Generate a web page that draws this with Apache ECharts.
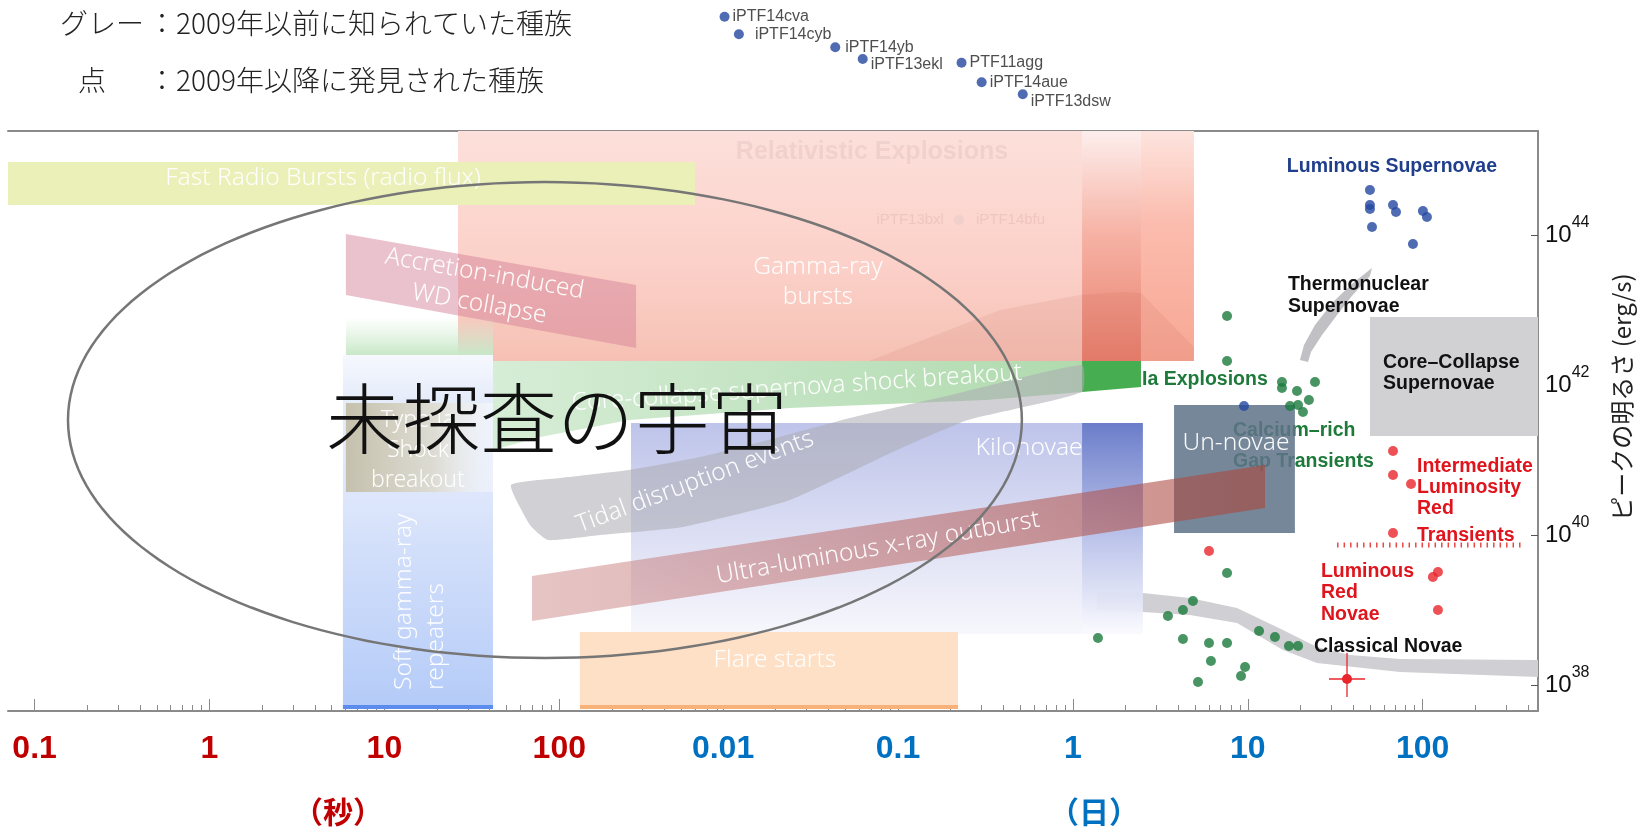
<!DOCTYPE html>
<html><head><meta charset="utf-8">
<script src="https://cdn.jsdelivr.net/npm/echarts@6/dist/echarts.min.js"></script>
<style>html,body{margin:0;padding:0;background:#fff}#c{width:1643px;height:835px}</style>
</head><body><div id="c"></div>
<script>
// ---------- axes (x = log10 seconds, y = log10 erg/s) ----------
const xRange = [-1.152, 7.596];
const yRange = [37.653, 45.387];
const LOG_DAY = Math.log10(86400);
const secTickLabels = ['0.1', '1', '10', '100'];
const secTickValues = [-1, 0, 1, 2];          // log10 seconds
const dayTickLabels = ['0.01', '0.1', '1', '10', '100'];
const dayTickValues = [-2, -1, 0, 1, 2];      // log10 days
const yTickValues = [38, 40, 42, 44];

// ---------- regions (data coords) ----------
function rect(x0, x1, yT, yB) { return [[x0, yT], [x1, yT], [x1, yB], [x0, yB]]; }
const grbMain = rect(1.421, 4.989, 45.387, 42.32);
const grbMid = rect(4.989, 5.326, 45.387, 42.32);
const grbRight = rect(5.326, 5.629, 45.387, 42.32);
const grbShade = [[3.771, 42.32], [4.520, 43.0], [4.977, 43.2], [5.223, 43.24], [5.326, 43.227], [5.629, 42.507], [5.629, 42.32]];
const frbBand = rect(-1.152, 2.776, 44.973, 44.40);
const wdCollapse = [[0.780, 44.013], [2.439, 43.333], [2.439, 42.493], [0.780, 43.2]];
const greenFade = rect(0.780, 1.621, 42.907, 42.4);
const sgrBox = rect(0.763, 1.621, 42.4, 37.693);
const sgrEdge = rect(0.763, 1.621, 37.733, 37.68);
const tanBox = rect(0.780, 1.621, 41.76, 40.573);
const ccsbBand = [[1.621, 42.32], [4.989, 42.32], [4.989, 41.907], [4.440, 41.8], [3.319, 41.693], [2.399, 41.533], [1.890, 41.307], [1.621, 41.133]];
const ccsbStrong = [[4.989, 42.32], [5.326, 42.32], [5.326, 41.973], [4.989, 41.907]];
const kiloMain = rect(2.410, 4.989, 41.493, 38.68);
const kiloStrong = rect(4.989, 5.337, 41.493, 38.68);
const tdeBand = [[1.724, 40.667], [2.004, 40.76], [2.399, 40.867], [2.804, 41.04], [3.153, 41.24], [3.662, 41.56], [4.240, 41.867], [4.989, 42.267],
                 [4.989, 41.907], [4.337, 41.533], [3.931, 41.133], [3.319, 40.467], [2.707, 40.107], [2.233, 40.0], [1.935, 39.933], [1.833, 40.133]];
const flareBox = rect(2.118, 4.280, 38.707, 37.693);
const flareEdge = rect(2.118, 4.280, 37.733, 37.68);
const novaBand = [[5.074, 39.24], [5.337, 39.227], [5.606, 39.16], [5.875, 39.027], [6.138, 38.733], [6.332, 38.507], [6.521, 38.4], [6.807, 38.347], [7.596, 38.333],
                  [7.596, 38.107], [6.807, 38.173], [6.332, 38.293], [6.138, 38.467], [5.875, 38.827], [5.606, 38.933], [5.337, 38.973], [5.074, 39.0]];
const thermoBand = [[6.235, 42.333], [6.258, 42.533], [6.321, 42.8], [6.424, 43.107], [6.532, 43.347], [6.647, 43.56],
                    [6.635, 43.453], [6.532, 43.187], [6.447, 42.933], [6.361, 42.667], [6.298, 42.44], [6.281, 42.307]];
const ccBox = rect(6.635, 7.596, 42.907, 41.32);
const unnovaeBox = rect(5.515, 6.206, 41.733, 40.027);
const ulxBand = [[1.844, 39.453], [6.035, 40.933], [6.035, 40.36], [1.844, 38.853]];
const ilrtDivider = [[6.447, 39.867], [7.499, 39.867]];
const unexplored = [1.918, 41.533, 2.727, 3.173]; // centre x, centre y, half-width, half-height (decades)

// ---------- points ----------
const ptfNames = ['iPTF14cva', 'iPTF14cyb', 'iPTF14yb', 'iPTF13ekl', 'PTF11agg', 'iPTF14aue', 'iPTF13dsw'];
const ptfValues = [[2.945, 46.911], [3.027, 46.676], [3.578, 46.503], [3.735, 46.347], [4.300, 46.297], [4.415, 46.036], [4.650, 45.876]];
const faintNames = ['iPTF13bxl', 'iPTF14bfu'];
const faintValues = [[4.285, 44.2], [4.285, 44.2]];
const luminousSN = [[6.635, 44.6], [6.635, 44.4], [6.635, 44.347], [6.647, 44.107], [6.767, 44.4], [6.784, 44.307], [6.938, 44.32], [6.961, 44.24], [6.881, 43.88], [5.915, 41.72]];
const greenPts = [[5.818, 42.92], [5.818, 42.32], [6.132, 42.04], [6.132, 41.96], [6.218, 41.92], [6.321, 42.04], [6.286, 41.8], [6.178, 41.72], [6.224, 41.733], [6.252, 41.64],
                  [5.818, 39.493], [5.623, 39.12], [5.566, 39.0], [5.480, 38.92], [5.080, 38.627], [5.566, 38.613], [5.715, 38.56], [5.818, 38.56], [5.726, 38.32],
                  [5.921, 38.24], [5.898, 38.12], [5.652, 38.04], [6.001, 38.72], [6.092, 38.64], [6.172, 38.52], [6.224, 38.52]];
const redPts = [[5.715, 39.787], [6.767, 41.12], [6.767, 40.8], [6.870, 40.68], [6.767, 40.027], [6.995, 39.44], [7.024, 39.507], [7.024, 39.0]];
const redErrPt = [[6.504, 38.08, 0.103, 0.347, 0.24]]; // x, y, ±x, +y, -y

// ---------- annotations [text, x, y, rotation] ----------
const whiteNotes = [
  ['Fast Radio Bursts (radio flux)', 0.649, 44.76, 0],
  ['Gamma-ray\nbursts', 3.479, 43.373, 0],
  ['Accretion-induced\nWD collapse', 1.558, 43.28, -10],
  ['Core-collapse supernova shock breakout', 3.359, 41.96, 3.9],
  ['Tidal disruption events', 2.776, 40.707, 20.5],
  ['Kilonovae', 4.686, 41.16, 0],
  ['Ultra-luminous x-ray outburst', 3.822, 39.827, 10],
  ['Flare starts', 3.233, 38.333, 0],
  ['Un-novae', 5.869, 41.227, 0]
];
const typeIaNote = ['Type Ia\nShock\nbreakout', 1.192, 41.133, 0];
const sgrNote = ['Soft gamma-ray\nrepeaters', 1.203, 37.933, 90];
const relNote = ['Relativistic Explosions', 3.788, 45.107, 0];
const calciumNote = ['Calcium\u2013rich\nGap Transients', 5.852, 41.18, 0];
const classNotes = [
  ['Luminous Supernovae', 6.160, 44.907, '#1f3e8c', 19],
  ['Thermonuclear\nSupernovae', 6.166, 43.187, '#111', 22],
  ['Core\u2013Collapse\nSupernovae', 6.710, 42.16, '#111', 21],
  ['Ia Explosions', 5.332, 42.067, '#1e7a3a', 20],
  ['Intermediate\nLuminosity\nRed', 6.904, 40.627, '#e0141c', 21],
  ['Transients', 6.904, 39.987, '#e0141c', 20],
  ['Luminous\nRed\nNovae', 6.355, 39.227, '#e0141c', 21.5],
  ['Classical Novae', 6.315, 38.507, '#111', 20]
];
const titleNote = ['未探査の宇宙', 1.987, 41.547];

// ---------- helpers ----------
const LG = (x0, y0, x1, y1, stops) => new echarts.graphic.LinearGradient(x0, y0, x1, y1, stops.map(s => ({offset: s[0], color: s[1]})));
let zc = 1;
function region(points, fill, extra) {
  return {
    type: 'custom', silent: true, z: zc++, clip: false, data: points,
    renderItem: function (params, api) {
      if (params.dataIndex !== 0) return null;
      const pts = points.map(p => api.coord(p));
      return {type: 'polygon', shape: Object.assign({points: pts}, (extra && extra.shape) || {}), style: Object.assign({fill: fill}, (extra && extra.style) || {})};
    }
  };
}
const LATIN_LIGHT = "'Noto Sans', 'DejaVu Sans', sans-serif";
const BOLD_SANS = "'Liberation Sans', Arial, sans-serif";
const CJK = "'Noto Sans CJK JP', 'Noto Sans', sans-serif";
function notes(list, styleFn) {
  return {
    type: 'custom', silent: true, z: zc++, clip: false, data: list.map(n => [n[1], n[2]]),
    renderItem: function (params, api) {
      const n = list[params.dataIndex];
      const p = api.coord([n[1], n[2]]);
      const st = styleFn(n);
      return {type: 'text', x: p[0], y: p[1], rotation: (st.rot || 0) * Math.PI / 180,
              style: Object.assign({text: n[0], verticalAlign: 'middle'}, st.style)};
    }
  };
}
const whiteStyle = (size) => ({fill: 'rgba(255,255,255,0.95)', fontSize: size, fontFamily: LATIN_LIGHT, fontWeight: 300, align: 'center', lineHeight: size * 1.25});

// ticks
const minorTicks = [];
for (let n = -1; n <= 1; n++) for (let k = 2; k <= 9; k++) minorTicks.push(Math.log10(k * Math.pow(10, n)));
for (let k = 2; k <= 8; k++) minorTicks.push(Math.log10(k * 100));
for (let n = -2; n <= 2; n++) for (let k = 2; k <= 9; k++) { const v = Math.log10(k * Math.pow(10, n)) + LOG_DAY; if (v < xRange[1]) minorTicks.push(v); }
const dayTickPos = dayTickValues.map(d => d + LOG_DAY);
const majorTicks = secTickValues.concat(dayTickPos);
function fmtX(v) {
  for (let i = 0; i < secTickValues.length; i++) if (Math.abs(v - secTickValues[i]) < 1e-6) return '{s|' + secTickLabels[i] + '}';
  for (let i = 0; i < dayTickPos.length; i++) if (Math.abs(v - dayTickPos[i]) < 1e-6) return '{d|' + dayTickLabels[i] + '}';
  return '';
}
const labelNudge = {iPTF14cyb: [8, 0], iPTF14yb: [2, 0], iPTF13ekl: [0, 6], iPTF13dsw: [0, 7]};

const series = [
  region(grbMain, LG(0, 0, 0, 1, [[0, '#fde0db'], [0.6, '#fbd0c8'], [1, '#f6c1b4']])),
  region(grbMid, LG(0, 0, 0, 1, [[0, '#fdeeec'], [0.45, '#f6b2a4'], [1, '#e8806e']])),
  region(grbRight, LG(0, 0, 0, 1, [[0, '#fde4de'], [0.4, '#fbbcae'], [1, '#f8a794']])),
  region(grbShade, 'rgba(180,70,50,0.09)'),
  region(frbBand, '#ebefb8'),
  region(wdCollapse, 'rgba(212,128,150,0.48)'),
  region(greenFade, LG(0, 0, 0, 1, [[0, 'rgba(210,236,210,0)'], [1, 'rgba(200,232,200,1)']])),
  region(sgrBox, LG(0, 0, 0, 1, [[0, '#f6f8fe'], [0.12, '#e6edfa'], [0.4, '#dde6fb'], [1, '#b4cbf8']])),
  region(sgrEdge, '#5b8def'),
  region(tanBox, LG(0, 0, 1, 0, [[0, 'rgba(196,191,170,0.97)'], [0.6, 'rgba(220,217,204,0.85)'], [1, 'rgba(255,255,255,0.4)']])),
  region(ccsbBand, LG(0, 0, 1, 0, [[0, '#d6edd6'], [1, '#b0daae']])),
  region(ccsbStrong, '#46ad50'),
  region(kiloMain, LG(0, 0, 0, 1, [[0, 'rgba(190,196,234,1)'], [1, 'rgba(247,247,252,1)']])),
  region(tdeBand, 'rgba(172,172,178,0.55)', {shape: {smooth: 0.15}}),
  region(flareBox, '#fde0c5'),
  region(flareEdge, '#f7b27a'),
  region(novaBand, '#d0d0d4'),
  region(kiloStrong, LG(0, 0, 0, 1, [[0, '#6b7dca'], [0.6, 'rgba(190,198,235,0.92)'], [1, 'rgba(250,250,254,0.94)']])),
  region(thermoBand, '#c0c0c5'),
  region(ccBox, '#d1d1d3'),
  notes([calciumNote], n => ({style: {fill: '#1e7a3a', fontSize: 19.5, fontWeight: 'bold', fontFamily: BOLD_SANS, align: 'left', lineHeight: 31}})),
  region(unnovaeBox, 'rgba(94,115,136,0.86)'),
  region(ulxBand, LG(0, 0, 1, 0, [[0, 'rgba(200,125,125,0.45)'], [1, 'rgba(170,70,60,0.62)']])),
  notes(whiteNotes, n => ({rot: n[3], style: whiteStyle(24.5)})),
  notes([typeIaNote], n => ({style: Object.assign(whiteStyle(23), {lineHeight: 30})})),
  notes([sgrNote], n => ({rot: n[3], style: Object.assign(whiteStyle(24.5), {align: 'left', lineHeight: 32})})),
  notes([relNote], n => ({style: {fill: 'rgba(200,160,160,0.2)', fontSize: 25, fontWeight: 'bold', fontFamily: BOLD_SANS, align: 'center'}})),
  notes(classNotes, n => ({style: {fill: n[3], fontSize: 19.5, fontWeight: 'bold', fontFamily: BOLD_SANS, align: 'left', lineHeight: n[4]}})),
  {type: 'line', z: zc++, silent: true, data: ilrtDivider, symbol: 'none', lineStyle: {color: 'rgba(226,40,40,0.85)', width: 5, type: [1.5, 5]}},
  {type: 'custom', z: zc++, silent: true, clip: false, data: redErrPt,
   renderItem: function (params, api) {
     const x = api.value(0), y = api.value(1), xe = api.value(2), eu = api.value(3), ed = api.value(4);
     const l = api.coord([x - xe, y]), r = api.coord([x + xe, y]), t = api.coord([x, y + eu]), b = api.coord([x, y - ed]), c = api.coord([x, y]);
     const st = {stroke: '#e8262b', lineWidth: 1.3};
     return {type: 'group', children: [
       {type: 'line', shape: {x1: l[0], y1: l[1], x2: r[0], y2: r[1]}, style: st},
       {type: 'line', shape: {x1: t[0], y1: t[1], x2: b[0], y2: b[1]}, style: st},
       {type: 'circle', shape: {cx: c[0], cy: c[1], r: 5}, style: {fill: '#e8262b'}}
     ]};
   }},
  {type: 'scatter', name: 'faint', z: zc++, silent: true, symbolSize: 10, itemStyle: {color: '#f0cfcb'},
   data: faintNames.map((nm, i) => ({name: nm, value: faintValues[i], label: {show: true, position: i === 0 ? 'left' : 'right', distance: i === 0 ? 10 : 12, formatter: '{b}', color: 'rgba(215,170,165,0.45)', fontSize: 15, fontFamily: BOLD_SANS}}))},
  {type: 'scatter', name: 'Luminous', z: zc++, silent: true, symbolSize: 10, itemStyle: {color: '#2347a0'}, data: luminousSN},
  {type: 'scatter', name: 'Green', z: zc++, silent: true, symbolSize: 10, itemStyle: {color: '#1a7a3c'}, data: greenPts},
  {type: 'scatter', name: 'Red', z: zc++, silent: true, symbolSize: 10, itemStyle: {color: '#e8262b'}, data: redPts},
  {type: 'scatter', name: 'PTF', z: zc++, silent: true, clip: false, symbolSize: 10, itemStyle: {color: '#2347a0'},
   data: ptfNames.map((nm, i) => ({name: nm, value: ptfValues[i], label: {show: true, position: 'right', distance: 3, offset: labelNudge[nm] || [0, 0], formatter: '{b}', color: '#222', fontSize: 16, fontFamily: BOLD_SANS}}))},
  {type: 'custom', z: zc++, silent: true, clip: false, data: [unexplored],
   renderItem: function (params, api) {
     const cx = api.value(0), cy = api.value(1), rx = api.value(2), ry = api.value(3);
     const pts = [];
     for (let i = 0; i < 180; i++) { const a = i / 180 * Math.PI * 2; pts.push(api.coord([cx + rx * Math.cos(a), cy + ry * Math.sin(a)])); }
     return {type: 'polygon', shape: {points: pts}, style: {fill: 'none', stroke: '#767676', lineWidth: 2.5}};
   }},
  notes([titleNote], n => ({style: {fill: '#111', fontSize: 77, fontFamily: CJK, fontWeight: 300, align: 'center'}}))
];

const chart = echarts.init(document.getElementById('c'), null, {renderer: 'canvas'});
chart.setOption({
  animation: false,
  backgroundColor: '#fff',
  grid: {left: 8, right: 105, top: 131, bottom: 124},
  xAxis: [
    {type: 'value', min: xRange[0], max: xRange[1], position: 'bottom',
     axisLine: {show: true, onZero: false, lineStyle: {color: '#8a8a8a', width: 2}},
     axisTick: {show: true, inside: true, length: 6, customValues: minorTicks, lineStyle: {color: '#8a8a8a', width: 1}},
     axisLabel: {show: true, customValues: majorTicks, margin: 22, formatter: fmtX,
       rich: {s: {color: '#c00000', fontSize: 32, fontWeight: 'bold', fontFamily: BOLD_SANS},
              d: {color: '#0070c0', fontSize: 32, fontWeight: 'bold', fontFamily: BOLD_SANS}}},
     splitLine: {show: false}},
    {type: 'value', min: xRange[0], max: xRange[1], position: 'bottom',
     axisLine: {show: false}, axisTick: {show: true, inside: true, length: 12, customValues: majorTicks, lineStyle: {color: '#8a8a8a', width: 1}},
     axisLabel: {show: false}, splitLine: {show: false}},
    {type: 'value', min: xRange[0], max: xRange[1], position: 'top',
     axisLine: {show: true, onZero: false, lineStyle: {color: '#8a8a8a', width: 2}}, axisTick: {show: false}, axisLabel: {show: false}, splitLine: {show: false}}
  ],
  yAxis: [{type: 'value', min: yRange[0], max: yRange[1], position: 'right',
    axisLine: {show: true, onZero: false, lineStyle: {color: '#8a8a8a', width: 2}},
    axisTick: {show: true, inside: true, length: 7, customValues: yTickValues, lineStyle: {color: '#555'}},
    axisLabel: {customValues: yTickValues, margin: 7, formatter: v => '{b|10}{s|' + Math.round(v) + '}',
      rich: {b: {fontSize: 24, color: '#111', fontFamily: BOLD_SANS, lineHeight: 40}, s: {fontSize: 16, color: '#111', fontFamily: BOLD_SANS, verticalAlign: 'top', lineHeight: 16}}},
    splitLine: {show: false},
    name: 'ピークの明るさ (erg/s)', nameLocation: 'middle', nameRotate: 90, nameGap: 72,
    nameTextStyle: {fontSize: 24, color: '#222', fontFamily: CJK, padding: [0, 0, 0, 48]}}],
  graphic: [
    {type: 'text', left: 60, top: 9, style: {text: 'グレー', fontSize: 28, fontFamily: CJK, fontWeight: 300, fill: '#222'}},
    {type: 'text', left: 148, top: 9, style: {text: '：2009年以前に知られていた種族', fontSize: 28, fontFamily: CJK, fontWeight: 300, fill: '#222'}},
    {type: 'text', left: 78, top: 66, style: {text: '点', fontSize: 28, fontFamily: CJK, fontWeight: 300, fill: '#222'}},
    {type: 'text', left: 148, top: 66, style: {text: '：2009年以降に発見された種族', fontSize: 28, fontFamily: CJK, fontWeight: 300, fill: '#222'}},
    {type: 'text', x: 338, y: 812, style: {text: '（秒）', fontSize: 30, fontWeight: 'bold', fontFamily: CJK, fill: '#c00000', align: 'center', verticalAlign: 'middle'}},
    {type: 'text', x: 1094, y: 812, style: {text: '（日）', fontSize: 30, fontWeight: 'bold', fontFamily: CJK, fill: '#0070c0', align: 'center', verticalAlign: 'middle'}}
  ],
  series: series
});
</script>
</body></html>
